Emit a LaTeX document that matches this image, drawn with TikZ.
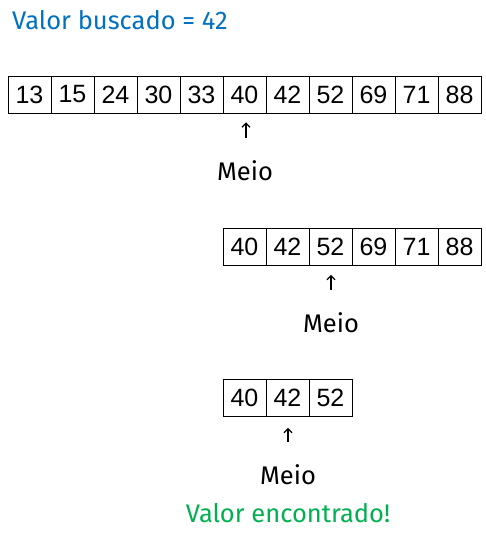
\documentclass[tikz,border=0pt]{standalone}
\usepackage{fontspec}
\setmainfont{Fira Sans}
\newfontfamily\numfont{Liberation Sans}
\usetikzlibrary{arrows.meta}
\definecolor{titleblue}{HTML}{0070C0}
\definecolor{foundgreen}{HTML}{00B050}
\begin{document}
\begin{tikzpicture}[x=1pt,y=-1pt,
  cell/.style={draw=black,line width=0.9pt,minimum width=43pt,minimum height=37pt,inner sep=0pt,font=\numfont\fontsize{25}{25}\selectfont},
  lbl/.style={inner sep=0pt,font=\fontsize{25.5}{25.5}\selectfont},
  ptr/.style={line width=1.2pt,-{Straight Barb[length=4pt,width=8pt]}}]
\useasboundingbox (0,0) rectangle (485,533);
\node[lbl,anchor=west,text=titleblue] (title) at (12,20) {Valor buscado = 42};
% first array
\foreach \v [count=\i] in {13,15,24,30,33,40,42,52,69,71,88}
  \node[cell] (a\i) at ({8+43*(\i-0.5)},94.5) {\v};
% second array
\foreach \v [count=\i] in {40,42,52,69,71,88}
  \node[cell] (b\i) at ({223+43*(\i-0.5)},247) {\v};
% third array
\foreach \v [count=\i] in {40,42,52}
  \node[cell] (c\i) at ({223+43*(\i-0.5)},398) {\v};
% labels
\node[lbl] (m1) at (245,171) {Meio};
\node[lbl] (m2) at (331,323) {Meio};
\node[lbl] (m3) at (288,475) {Meio};
\node[lbl,text=foundgreen] (found) at (288,513) {Valor encontrado!};
% arrows
\draw[ptr,shorten <=23pt,shorten >=9pt] ([xshift=1.5pt]m1.north -| a6.south) -- ([xshift=1.5pt]a6.south);
\draw[ptr,shorten <=23pt,shorten >=9pt] ([xshift=0.5pt]m2.north -| b3.south) -- ([xshift=0.5pt]b3.south);
\draw[ptr,shorten <=23pt,shorten >=11pt] ([xshift=0.5pt]m3.north -| c2.south) -- ([xshift=0.5pt]c2.south);
\end{tikzpicture}
\end{document}
